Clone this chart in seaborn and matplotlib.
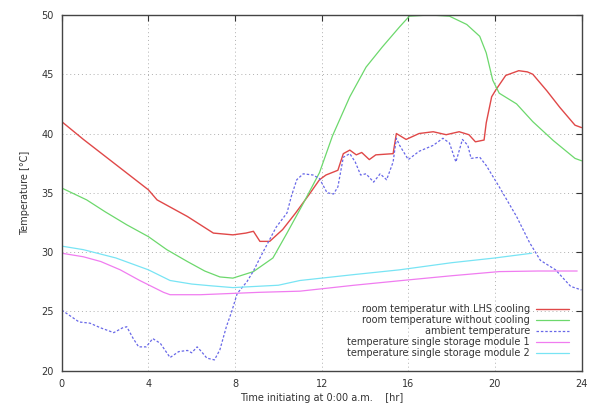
import numpy as np
import pandas as pd
import seaborn as sns
import matplotlib.pyplot as plt

# room temperature with LHS cooling
lhs_t = [0, 1, 2.2, 4, 4.4, 5.8, 7.0, 7.9, 8.5, 8.85, 9.15, 9.6, 10.2, 10.8, 11.4, 11.9,
         12.2, 12.75, 13.0, 13.3, 13.6, 13.85, 14.2, 14.5, 15.3, 15.45, 15.9, 16.5, 17.15,
         17.75, 18.35, 18.8, 19.1, 19.5, 19.6, 19.85, 20.05, 20.5, 21.1, 21.5, 21.75, 22.4,
         23.0, 23.7, 24]
lhs_v = [41.0, 39.5, 37.8, 35.25, 34.4, 33.0, 31.6, 31.45, 31.6, 31.75, 30.9, 30.9, 31.9,
         33.3, 34.8, 36.1, 36.5, 36.9, 38.3, 38.6, 38.2, 38.4, 37.8, 38.2, 38.3, 40.0, 39.5,
         40.0, 40.15, 39.9, 40.15, 39.9, 39.3, 39.45, 40.9, 43.1, 43.7, 44.9, 45.3, 45.2,
         45.0, 43.6, 42.2, 40.7, 40.5]

# room temperature without cooling
nocool_t = [0, 1.15, 2, 3, 4, 4.85, 5.8, 6.6, 7.3, 7.9, 8.85, 9.75, 10.4, 11.15, 11.9,
            12.5, 13.3, 14.05, 14.8, 15.6, 16.05, 17.0, 17.9, 18.7, 19.3, 19.6, 19.9, 20.2,
            21.0, 21.75, 22.7, 23.7, 24]
nocool_v = [35.4, 34.4, 33.4, 32.3, 31.3, 30.2, 29.2, 28.4, 27.9, 27.8, 28.35, 29.5, 31.6,
            34.1, 36.7, 39.8, 43.1, 45.6, 47.3, 49.0, 49.9, 50.0, 49.9, 49.2, 48.2, 46.8,
            44.5, 43.4, 42.5, 41.0, 39.4, 37.9, 37.7]

# ambient temperature
amb_t = [0, 0.4, 0.8, 1.3, 1.8, 2.4, 2.8, 3.0, 3.3, 3.55, 3.9, 4.2, 4.55, 5.0, 5.4, 5.8,
         6.0, 6.25, 6.45, 6.7, 7.05, 7.3, 7.6, 7.85, 8.1, 8.55, 8.85, 9.15, 9.9, 10.4, 10.6,
         10.85, 11.15, 11.6, 11.9, 12.25, 12.55, 12.75, 13.0, 13.3, 13.55, 13.8, 14.05,
         14.4, 14.7, 15.0, 15.3, 15.45, 15.6, 16.0, 16.5, 17.15, 17.6, 17.9, 18.2, 18.5,
         18.75, 18.9, 19.3, 19.6, 20.2, 21.0, 21.6, 22.1, 22.8, 23.5, 24]
amb_v = [25.1, 24.6, 24.1, 24.0, 23.6, 23.2, 23.6, 23.7, 22.7, 22.0, 22.0, 22.7, 22.3, 21.1,
         21.6, 21.7, 21.5, 22.0, 21.6, 21.05, 20.9, 21.75, 23.7, 25.0, 26.5, 27.5, 28.4,
         29.5, 32.1, 33.3, 34.7, 36.1, 36.6, 36.5, 36.2, 35.0, 34.9, 35.5, 38.0, 38.3, 37.6,
         36.5, 36.6, 35.9, 36.6, 36.1, 37.6, 39.6, 39.0, 37.8, 38.5, 39.0, 39.6, 39.2, 37.6,
         39.5, 39.0, 37.9, 38.0, 37.3, 35.5, 33.0, 30.8, 29.3, 28.5, 27.1, 26.8]

# temperature single storage module 1
mod1_t = [0, 1.0, 1.8, 2.7, 3.6, 4.7, 5.0, 6.4, 9.1, 11.0, 13.5, 16.0, 18.0, 20.2, 22.0, 23.8]
mod1_v = [29.9, 29.6, 29.2, 28.5, 27.6, 26.6, 26.4, 26.4, 26.6, 26.7, 27.2, 27.65, 28.0,
          28.35, 28.4, 28.4]

# temperature single storage module 2
mod2_t = [0, 1.0, 2.5, 4.0, 5.0, 6.0, 6.9, 7.9, 10.0, 11.0, 13.5, 15.6, 18.0, 20.0, 21.7]
mod2_v = [30.5, 30.2, 29.5, 28.5, 27.6, 27.3, 27.15, 27.0, 27.2, 27.6, 28.1, 28.5, 29.1,
          29.5, 29.9]

labels = ["room temperatur with LHS cooling", "room temperature without cooling",
          "ambient temperature", "temperature single storage module 1",
          "temperature single storage module 2"]

sns.set_style("white")
plt.rcParams['font.family'] = ['DejaVu Sans']

fig = plt.figure(figsize=(5.94, 4.05), dpi=100)
ax = fig.add_axes([0.104, 0.085, 0.875, 0.878])

sns.lineplot(x=lhs_t, y=lhs_v, ax=ax, color='#e04848', lw=1.0, label=labels[0])
sns.lineplot(x=nocool_t, y=nocool_v, ax=ax, color='#6cd86c', lw=0.9, label=labels[1])
sns.lineplot(x=amb_t, y=amb_v, ax=ax, color='#6868e8', lw=0.9, linestyle=(0, (2, 1.5)),
             label=labels[2])
sns.lineplot(x=mod1_t, y=mod1_v, ax=ax, color='#f07cf0', lw=0.9, label=labels[3])
sns.lineplot(x=mod2_t, y=mod2_v, ax=ax, color='#78e4f4', lw=0.9, label=labels[4])

ax.set_xlim(0, 24)
ax.set_ylim(20, 50)
ax.set_xticks(range(0, 25, 4))
ax.set_yticks(range(20, 51, 5))
ax.grid(True, color='#b0b0b0', linestyle=(0, (1, 3)), lw=0.7)
ax.tick_params(direction='in', length=4, top=True, right=True, labelsize=7,
               colors='#333333', pad=6)
for s in ax.spines.values():
    s.set_color('#444444')
    s.set_linewidth(1.0)

ax.set_xlabel("Time initiating at 0:00 a.m.    [hr]", fontsize=7, color='#333333', labelpad=3)
ax.set_ylabel("Temperature [°C]", fontsize=7, color='#333333', labelpad=8)

leg = ax.legend(loc='lower right', fontsize=7, frameon=False, markerfirst=False,
                handlelength=3.4, handletextpad=0.6, labelspacing=0.1,
                borderaxespad=0.9)
for t in leg.get_texts():
    t.set_ha('right')
    t.set_color('#333333')
leg._legend_box.align = "right"

fig.savefig("out.png", dpi=100)
plt.close(fig)
